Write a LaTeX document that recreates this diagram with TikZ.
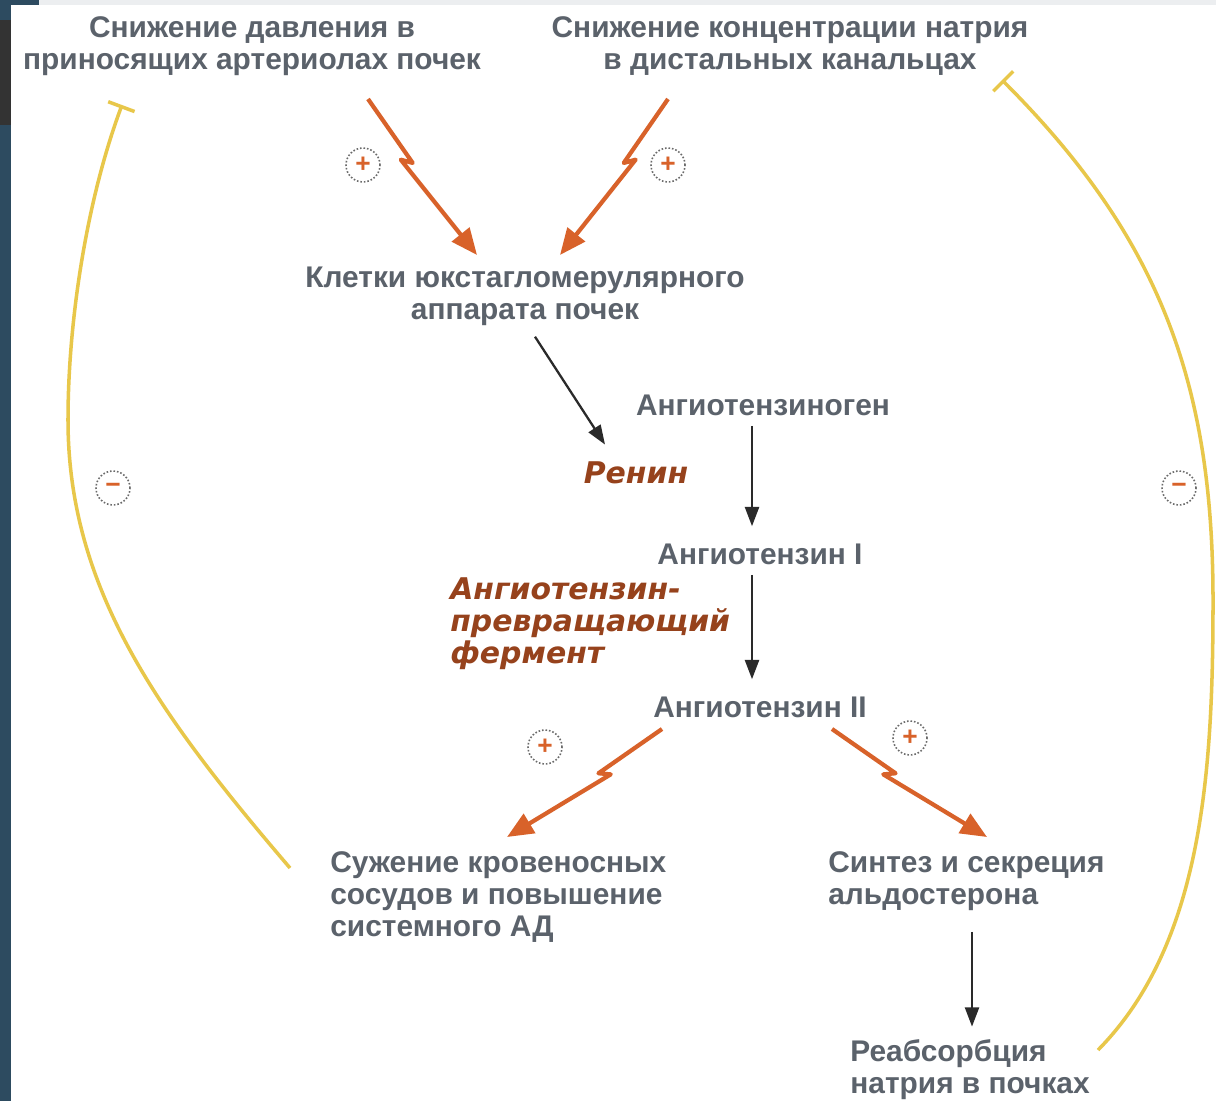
\documentclass[tikz,border=0pt]{standalone}
\usepackage{fontspec}
\setmainfont{Liberation Sans}
\newfontfamily\enzfont{DejaVu Sans}
\usetikzlibrary{arrows.meta,calc}
\definecolor{txt}{HTML}{5B626B}
\definecolor{enz}{HTML}{96421C}
\definecolor{orng}{HTML}{D8622A}
\definecolor{yel}{HTML}{E8C74A}
\definecolor{blk}{HTML}{2A2A2A}
\definecolor{sgray}{HTML}{6A6A6A}
\definecolor{strip}{HTML}{2D4B60}
\definecolor{dgray}{HTML}{333333}
\definecolor{topgray}{HTML}{ECEEF0}
\newcommand{\zap}[3]{\draw[oarr] (#1) -- ($(#1)!0.41!(#2)$) -- ($(#1)!0.36!(#2)!4.5pt!#3:(#2)$) -- (#2);}
\begin{document}
\begin{tikzpicture}[x=0.02cm,y=-0.02cm,
  lbl/.style={text=txt,font=\bfseries\fontsize{17}{18.2}\selectfont,inner sep=0pt,align=center},
  lbll/.style={lbl,align=left},
  enzl/.style={text=enz,font=\enzfont\bfseries\itshape\fontsize{17}{18.2}\selectfont,inner sep=0pt,align=left},
  oarr/.style={draw=orng,line width=2.4pt,line join=round,-{Triangle[length=15pt,width=12.5pt]}},
  barr/.style={draw=blk,line width=1.3pt,-{Triangle[length=11pt,width=8pt]}},
  inh/.style={draw=yel,line width=2pt,-{Bar[width=16pt,line width=2pt]}},
  sgn/.style={circle,draw=sgray,dash pattern=on 0.9pt off 1.1pt,line width=0.9pt,minimum size=0.68cm,inner sep=0pt,text=orng,font=\bfseries\fontsize{15}{15}\selectfont}
]
\useasboundingbox (0,0) rectangle (1216,1101);
\fill[white] (0,0) rectangle (1216,1101);
\fill[topgray] (0,0) rectangle (1216,5);
\fill[strip] (0,0) rectangle (11,1101);
\fill[strip] (0,0) rectangle (39,5);
\fill[dgray] (0,20) rectangle (11,125);

% text nodes
\node[lbl] (t1) at (252,46) {Снижение давления в\\приносящих артериолах почек};
\node[lbl] (t2) at (790,46) {Снижение концентрации натрия\\в дистальных канальцах};
\node[lbl] (t3) at (525,296) {Клетки юкстагломерулярного\\аппарата почек};
\node[lbl] (ag) at (763,405) {Ангиотензиноген};
\node[lbl] (a1) at (760,554) {Ангиотензин I};
\node[lbl] (a2) at (760,707) {Ангиотензин II};
\node[lbll,anchor=west] (vaso) at (330,897) {Сужение кровеносных\\сосудов и повышение\\системного АД};
\node[lbll,anchor=west] (ald) at (828,881) {Синтез и секреция\\альдостерона};
\node[lbll,anchor=west] (reab) at (850,1070) {Реабсорбция\\натрия в почках};

% enzyme labels
\node[enzl] (ren) at (636,473) {Ренин};
\node[enzl,anchor=west] (ace) at (450,624) {Ангиотензин-\\превращающий\\фермент};

% sign markers
\node[sgn] (s1) at (363,165) {+};
\node[sgn] (s2) at (668,165) {+};
\node[sgn] (s3) at (545,747) {+};
\node[sgn] (s4) at (910,738) {+};
\node[sgn] (m1) at (113,488) {−};
\node[sgn] (m2) at (1179,488) {−};

% orange stimulating arrows
\coordinate (o1s) at (368,99);
\coordinate (o1e) at (477,255);
\coordinate (o2s) at (668,99);
\coordinate (o2e) at (560,255);
\coordinate (o3s) at (662,729);
\coordinate (o3e) at (507,837);
\coordinate (o4s) at (832,729);
\coordinate (o4e) at (987,837);
\zap{o1s}{o1e}{-90}
\zap{o2s}{o2e}{90}
\zap{o3s}{o3e}{90}
\zap{o4s}{o4e}{-90}

% black arrows
\draw[barr] ($(t3.south)+(10,11)$) -- ($(ren.north)+(-31,-17)$);
\draw[barr] ($(ag.south)+(-11,10)$) -- ($(a1.north)+(-8,-17)$);
\draw[barr] ($(a1.south)+(-8,10)$) -- ($(a2.north)+(-8,-17)$);
\draw[barr] ($(ald.south west)+(144,21)$) -- ($(reab.north west)+(122,-13)$);

% inhibitory feedback arcs
\coordinate (l0) at (290,868);
\coordinate (lm) at (68,420);
\coordinate (l3) at (122,105);
\coordinate (r0) at (1098,1050);
\coordinate (rm) at (1213,600);
\coordinate (r3) at (1002,80);
\draw[inh] (l0) .. controls (160,716) and (68,590) .. (lm)
               .. controls (68,320) and (87,199) .. (l3);
\draw[inh] (r0) .. controls (1203,943.5) and (1213,770) .. (rm)
               .. controls (1213,380) and (1157.5,235.5) .. (r3);
\end{tikzpicture}
\end{document}
